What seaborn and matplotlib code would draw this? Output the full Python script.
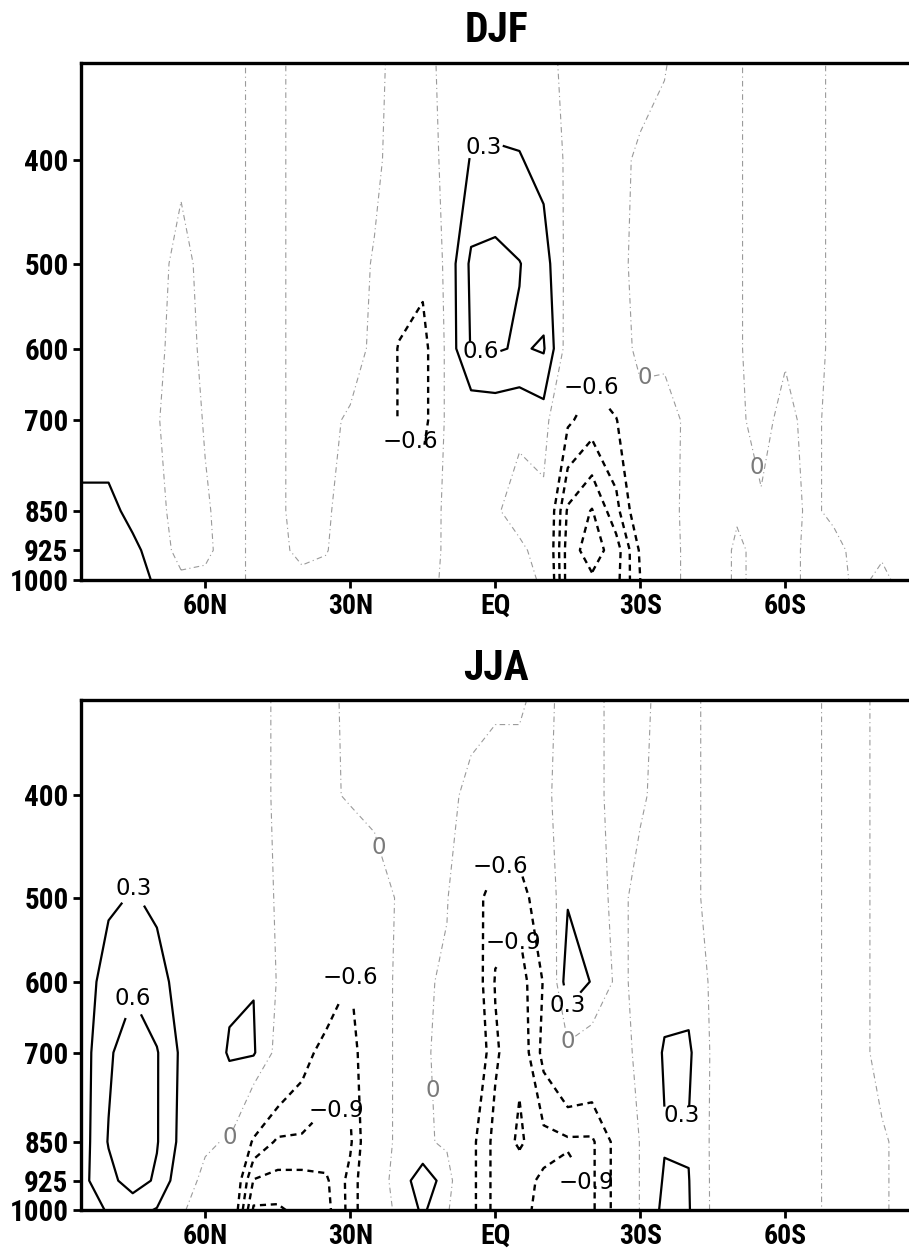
import numpy as np
import matplotlib
matplotlib.use("Agg")
import matplotlib.pyplot as plt
from matplotlib import font_manager
from matplotlib.ticker import NullLocator
import seaborn as sns

# ---------------------------------------------------------------------------
# Grid: latitude (90N -> 90S) and pressure levels (hPa)
# ---------------------------------------------------------------------------
latitudes = [90, 85, 80, 75, 70, 65, 60, 55, 50, 45, 40, 35, 30, 25, 20, 15, 10, 5, 0,
             -5, -10, -15, -20, -25, -30, -35, -40, -45, -50, -55, -60, -65, -70, -75,
             -80, -85, -90]
pressure_levels = [1000, 925, 850, 700, 600, 500, 400, 300]

# DJF zonal-mean anomaly, one row per pressure level (90N ... 90S)
djf_1000 = [0.5, 0.5, 0.5, 0.45, 0.25, 0.05, 0.05, 0.1, -0.05, -0.05, -0.05, -0.05, -0.1,
            -0.2, -0.2, -0.1, 0.05, 0.1, 0.1, 0.05, -0.02, -1.35, -1.45, -1.3, -0.6, -0.1,
            0.05, 0.1, -0.03, 0.05, 0.05, -0.03, -0.05, 0.03, -0.03, 0.05, 0.05]
djf_925 = [0.5, 0.5, 0.48, 0.38, 0.15, -0.1, -0.05, 0.1, -0.05, -0.05, 0.05, 0.01, -0.1,
           -0.2, -0.25, -0.15, 0.05, 0.1, 0.1, 0.05, -0.1, -1.35, -1.65, -1.35, -0.55, -0.1,
           0.05, 0.1, -0.03, 0.05, 0.05, -0.03, -0.03, 0.03, 0.02, 0.05, 0.05]
djf_850 = [0.4, 0.4, 0.4, 0.2, 0.1, -0.15, -0.03, 0.1, -0.05, -0.05, 0.1, 0.03, -0.1,
           -0.2, -0.35, -0.25, 0.08, 0.1, 0.03, -0.1, -0.1, -1.25, -1.52, -1.0, -0.3, -0.08,
           0.05, 0.1, 0.02, 0.02, 0.05, -0.02, 0.02, 0.05, 0.05, 0.05, 0.05]
djf_700 = [0.1, 0.1, 0.1, 0.08, 0.02, -0.15, 0.02, 0.1, -0.05, -0.05, 0.1, 0.05, -0.03,
           -0.2, -0.62, -0.8, 0.1, 0.05, 0.08, 0.05, 0.15, -0.55, -0.75, -0.62, -0.15, -0.1,
           0.05, 0.1, 0.03, -0.05, 0.05, -0.05, 0.05, 0.05, 0.05, 0.05, 0.05]
djf_600 = [0.1, 0.1, 0.1, 0.08, 0.05, -0.1, 0.05, 0.1, -0.05, -0.05, 0.1, 0.1, 0.1,
           -0.05, -0.63, -0.8, 0.1, 0.62, 0.63, 0.57, 0.63, -0.15, -0.45, -0.2, 0.1, 0.05,
           0.1, 0.1, 0.03, -0.1, -0.02, -0.1, 0.05, 0.05, 0.05, 0.05, 0.05]
djf_500 = [0.05, 0.05, 0.05, 0.05, 0.05, -0.05, 0.05, 0.1, -0.05, -0.05, 0.1, 0.1, 0.1,
           -0.02, -0.3, -0.45, 0.1, 0.66, 0.7, 0.61, 0.45, -0.1, -0.15, -0.1, 0.1, 0.1,
           0.1, 0.1, 0.03, -0.1, -0.1, -0.1, 0.05, 0.05, 0.05, 0.05, 0.05]
djf_400 = [0.05, 0.05, 0.05, 0.05, 0.05, 0.03, 0.05, 0.1, -0.05, -0.05, 0.1, 0.1, 0.1,
           0.05, -0.1, -0.1, 0.05, 0.32, 0.34, 0.32, 0.2, -0.05, -0.1, -0.05, 0.03, 0.05,
           0.1, 0.1, 0.03, -0.1, -0.1, -0.1, 0.05, 0.05, 0.05, 0.05, 0.05]
djf_300 = [0.05, 0.05, 0.05, 0.05, 0.05, 0.05, 0.05, 0.1, -0.05, -0.05, 0.1, 0.1, 0.1,
           0.05, -0.05, -0.05, 0.05, 0.05, 0.05, 0.05, 0.05, -0.05, -0.05, -0.05, -0.1, -0.03,
           0.05, 0.1, 0.03, -0.1, -0.1, -0.1, 0.05, 0.05, 0.05, 0.05, 0.05]

# JJA zonal-mean anomaly, one row per pressure level (90N ... 90S)
jja_1000 = [0.1, 0.2, 0.32, 0.4, 0.28, 0.02, -0.08, -0.1, -1.55, -1.55, -1.4, -1.3, -0.8,
            -0.15, 0.05, 0.35, 0.05, -0.5, -1.0, -1.0, -0.8, -0.75, -0.95, -0.5, 0.02, 0.38,
            0.32, -0.05, -0.05, -0.05, -0.05, -0.05, 0.05, 0.05, 0.02, -0.05, -0.05]
jja_925 = [0.15, 0.25, 0.5, 0.75, 0.55, 0.1, -0.05, -0.05, -1.22, -1.3, -1.3, -1.25, -0.8,
           -0.15, 0.1, 0.5, 0.15, -0.5, -1.0, -1.0, -0.85, -0.75, -0.95, -0.5, 0.02, 0.33,
           0.31, -0.05, -0.05, -0.05, -0.05, -0.05, 0.05, 0.05, 0.02, -0.05, -0.05]
jja_850 = [0.15, 0.2, 0.62, 0.85, 0.62, 0.22, 0.03, -0.02, -0.65, -0.95, -0.95, -1.0, -0.95,
           -0.15, 0.05, 0.05, -0.05, -0.5, -1.0, -1.25, -1.0, -0.95, -0.95, -0.5, 0.02, 0.28,
           0.28, -0.05, -0.05, -0.05, -0.05, -0.05, 0.05, 0.05, 0.02, -0.05, -0.05]
jja_700 = [0.15, 0.2, 0.55, 0.8, 0.62, 0.25, 0.1, 0.33, 0.33, -0.1, -0.45, -0.75, -0.8,
           -0.15, 0.05, 0.05, -0.1, -0.15, -0.85, -1.15, -0.5, -0.1, -0.2, -0.1, 0.05, 0.33,
           0.35, -0.05, -0.05, -0.05, -0.05, -0.05, 0.05, 0.05, -0.05, -0.05, -0.05]
jja_600 = [0.12, 0.15, 0.45, 0.55, 0.4, 0.2, 0.1, 0.25, 0.29, -0.02, -0.1, -0.3, -0.62,
           -0.15, 0.05, 0.05, -0.05, -0.3, -0.92, -1.05, -0.58, 0.5, 0.28, -0.05, 0.05, 0.2,
           0.2, -0.05, -0.05, -0.05, -0.05, -0.05, 0.05, 0.05, -0.05, -0.05, -0.05]
jja_500 = [0.1, 0.12, 0.25, 0.32, 0.25, 0.1, 0.05, 0.1, 0.1, -0.02, -0.1, -0.15, -0.3,
           -0.1, 0.02, 0.05, 0.02, -0.4, -0.8, -0.8, -0.3, 0.27, 0.1, -0.05, 0.05, 0.05,
           0.05, -0.05, -0.05, -0.05, -0.05, -0.05, 0.05, 0.05, -0.05, -0.05, -0.05]
jja_400 = [0.05, 0.08, 0.1, 0.15, 0.1, 0.05, 0.05, 0.05, 0.05, -0.02, -0.1, -0.05, 0.03,
           0.05, 0.05, 0.05, 0.05, -0.05, -0.2, -0.2, -0.05, 0.1, 0.05, -0.05, -0.02, 0.05,
           0.05, -0.05, -0.05, -0.05, -0.05, -0.05, 0.05, 0.05, -0.05, -0.05, -0.05]
jja_300 = [0.05, 0.05, 0.05, 0.05, 0.05, 0.05, 0.05, 0.05, 0.05, -0.02, -0.1, -0.05, 0.05,
           0.05, 0.05, 0.05, 0.05, 0.1, 0.15, 0.15, -0.05, 0.05, 0.05, -0.05, -0.05, 0.05,
           0.05, -0.05, -0.05, -0.05, -0.05, -0.05, 0.05, 0.05, -0.05, -0.05, -0.05]

# Axis ticks
y_ticks = [400, 500, 600, 700, 850, 925, 1000]
y_tick_labels = ["400", "500", "600", "700", "850", "925", "1000"]
x_ticks = [60, 30, 0, -30, -60]
x_tick_labels = ["60N", "30N", "EQ", "30S", "60S"]

# Contour intervals
neg_levels = [-1.5, -1.2, -0.9, -0.6]
zero_level = [0.0]
pos_levels = [0.3, 0.6, 0.9]

# Label anchor points (latitude, hPa) for the contour annotations
djf_labels = [(2.7, 386), (3.0, 598), (18.0, 735), (-20.0, 652), (-31.0, 640), (-51.0, 780)]
jja_labels = [(75.0, 490), (75.0, 622), (30.0, 595), (33.0, 795), (-1.0, 462), (-3.5, 550),
              (-14.5, 632), (-17.6, 930), (-37.0, 835), (54.4, 850), (18.6, 440),
              (12.8, 760), (-14.9, 690)]

# ---------------------------------------------------------------------------
# Style
# ---------------------------------------------------------------------------
sns.set_theme(style="ticks")
plt.rcParams["font.family"] = ["DejaVu Sans"]
plt.rcParams["axes.linewidth"] = 2.2
plt.rcParams["axes.edgecolor"] = "black"
for key in ("text.color", "axes.labelcolor", "xtick.color", "ytick.color"):
    plt.rcParams[key] = "black"


def narrow_font():
    """Pick the narrowest bold sans available for titles and axis labels."""
    fonts = font_manager.fontManager.ttflist
    names = {f.name for f in fonts}
    for cand in ("Liberation Sans Narrow", "Roboto Condensed", "Open Sans Condensed"):
        if cand in names:
            return {"family": cand}, True
    for f in fonts:
        if f.name == "DejaVu Sans" and str(f.stretch) in ("condensed", "semi-condensed"):
            return {"family": "DejaVu Sans", "stretch": "condensed"}, True
    return {"family": "Liberation Sans"}, False


NARROW, IS_NARROW = narrow_font()

# Pressure axis: logarithmic above 925 hPa, lowest layer compressed
P_KNEE, P_SFC, P_EQUIV = 925.0, 1000.0, 986.0
LOG_KNEE = np.log(P_KNEE)
LOG_SPAN = np.log(P_EQUIV / P_KNEE)


def p_forward(p):
    p = np.asarray(p, dtype=float)
    safe = np.clip(p, 1e-3, None)
    return np.where(p <= P_KNEE, np.log(safe),
                    LOG_KNEE + (p - P_KNEE) / (P_SFC - P_KNEE) * LOG_SPAN)


def p_inverse(y):
    y = np.asarray(y, dtype=float)
    return np.where(y <= LOG_KNEE, np.exp(np.minimum(y, 50.0)),
                    P_KNEE + (y - LOG_KNEE) / LOG_SPAN * (P_SFC - P_KNEE))


def fmt_label(v):
    if abs(v) < 1e-9:
        return "0"
    return f"{v:.1f}".replace("-", "\u2212")


W, H = 909, 1255
fig = plt.figure(figsize=(W / 100, H / 100), dpi=100)
fig.patch.set_facecolor("white")


def make_panel(rows, top_px, bottom_px, title, title_px, label_pts):
    left_px, right_px = 81, 911
    ax = fig.add_axes([left_px / W, 1 - bottom_px / H,
                       (right_px - left_px) / W, (bottom_px - top_px) / H])
    ax.set_facecolor("white")
    field = np.array(rows, dtype=float)
    lat = np.array(latitudes, dtype=float)
    lev = np.array(pressure_levels, dtype=float)

    ax.set_yscale("function", functions=(p_forward, p_inverse))

    cz = ax.contour(lat, lev, field, levels=zero_level, colors="#9a9a9a",
                    linewidths=0.8)
    cz.set_linestyle((0, (5, 3, 1, 3)))
    cn = ax.contour(lat, lev, field, levels=neg_levels, colors="black",
                    linewidths=1.7)
    cn.set_linestyle((0, (2.6, 2.0)))
    cp = ax.contour(lat, lev, field, levels=pos_levels, colors="black",
                    linewidths=1.6)
    cp.set_linestyle("solid")

    ax.set_xlim(85.7, -86.0)
    ax.set_ylim(1000, 325)

    # place labels on the nearest contour of each group
    pos_pts, neg_pts, zero_pts = [], [], []
    for (la, pr) in label_pts:
        i = int(np.argmin(np.abs(lat - la)))
        ref = np.interp(pr, lev[::-1], field[::-1, i])
        if ref >= 0.15:
            pos_pts.append((la, pr))
        elif ref <= -0.45:
            neg_pts.append((la, pr))
        else:
            zero_pts.append((la, pr))
    for cs, pts, col in ((cp, pos_pts, "black"), (cn, neg_pts, "black"),
                         (cz, zero_pts, "#7a7a7a")):
        if pts:
            texts = ax.clabel(cs, manual=pts, inline=True, inline_spacing=2,
                              fmt=fmt_label, fontsize=16.5, colors=col)
            for t in texts:
                t.set_rotation(0)
                t.set_fontfamily("DejaVu Sans")

    ax.set_yticks(y_ticks)
    ax.set_yticklabels(y_tick_labels)
    ax.yaxis.set_minor_locator(NullLocator())
    ax.set_xticks(x_ticks)
    ax.set_xticklabels(x_tick_labels)
    ax.tick_params(axis="both", direction="out", length=6, width=2.0, pad=3,
                   colors="black")
    ax.tick_params(axis="y", labelsize=21 if IS_NARROW else 18)
    ax.tick_params(axis="x", labelsize=20 if IS_NARROW else 18)
    for lab in ax.get_xticklabels() + ax.get_yticklabels():
        lab.set_fontweight("bold")
        lab.set_fontfamily(NARROW["family"])
        if "stretch" in NARROW:
            lab.set_fontstretch(NARROW["stretch"])
    ax.set_xlabel("")
    ax.set_ylabel("")
    for side in ("top", "left", "bottom", "right"):
        ax.spines[side].set_visible(True)
        ax.spines[side].set_linewidth(2.4)
    fig.text(496 / W, 1 - title_px / H, title, ha="center", va="center",
             fontsize=30 if IS_NARROW else 27, fontweight="bold", color="black",
             **NARROW)
    return ax


make_panel([djf_1000, djf_925, djf_850, djf_700, djf_600, djf_500, djf_400, djf_300],
           63, 580, "DJF", 30, djf_labels)
make_panel([jja_1000, jja_925, jja_850, jja_700, jja_600, jja_500, jja_400, jja_300],
           700, 1210, "JJA", 668, jja_labels)

fig.savefig("out.png", dpi=100, facecolor="white")
